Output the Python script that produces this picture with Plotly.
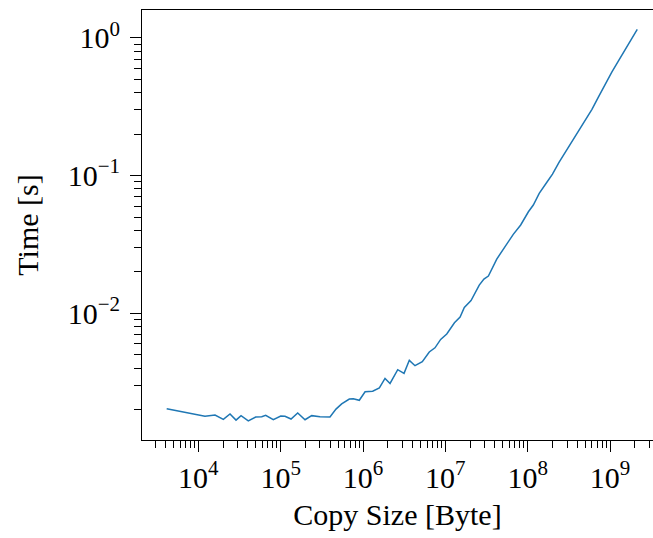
import plotly.graph_objects as go

# Copy benchmark: copy size in bytes vs. elapsed time in seconds
copy_size = [
    4130, 12050, 15960, 20140, 24270, 28710, 33040, 40460, 49770, 58880,
    65770, 81470, 100200, 113000, 133700, 161100, 197700, 238200, 300600, 397200,
    469900, 550800, 682300, 762100, 901600, 1.06e6, 1.31e6, 1.58e6, 1.85e6, 2.13e6,
    2.64e6, 3.15e6, 3.65e6, 4.28e6, 5.25e6, 6.38e6, 7.48e6, 8.77e6, 1.04e7, 1.29e7,
    1.51e7, 1.70e7, 2.05e7, 2.58e7, 2.94e7, 3.33e7, 4.21e7, 5.30e7, 6.68e7, 8.22e7,
    1.02e8, 1.17e8, 1.38e8, 1.66e8, 2.00e8, 2.40e8, 2.88e8, 3.47e8, 4.17e8, 5.01e8,
    6.03e8, 7.24e8, 8.71e8, 1.05e9, 1.26e9, 1.51e9, 1.82e9, 2.14e9,
]
copy_time = [
    0.00203, 0.00179, 0.00183, 0.00170, 0.00186, 0.00168, 0.00181, 0.00166, 0.00177, 0.00178,
    0.00182, 0.00169, 0.00180, 0.00179, 0.00171, 0.00189, 0.00169, 0.00181, 0.00178, 0.00177,
    0.00202, 0.00220, 0.00239, 0.00240, 0.00234, 0.00270, 0.00272, 0.00288, 0.00337, 0.00310,
    0.00390, 0.00367, 0.00456, 0.00417, 0.00446, 0.00524, 0.00562, 0.00647, 0.00708, 0.00855,
    0.00940, 0.01102, 0.01239, 0.01603, 0.01774, 0.01866, 0.02477, 0.03041, 0.03741, 0.04375,
    0.05458, 0.06109, 0.07430, 0.0871, 0.1023, 0.1245, 0.148, 0.176, 0.209, 0.251,
    0.302, 0.372, 0.462, 0.562, 0.676, 0.813, 0.989, 1.151,
]

x_tick_vals = [1e4, 1e5, 1e6, 1e7, 1e8, 1e9]
x_tick_text = ["10<sup>4</sup>", "10<sup>5</sup>", "10<sup>6</sup>",
               "10<sup>7</sup>", "10<sup>8</sup>", "10<sup>9</sup>"]
y_tick_vals = [1e-2, 1e-1, 1e0]
y_tick_text = ["10<sup>\u22122</sup>", "10<sup>\u22121</sup>", "10<sup>0</sup>"]

x_minor = [m * 10 ** e for e in range(3, 10) for m in range(2, 10)]
y_minor = [m * 10 ** e for e in range(-3, 1) for m in range(2, 10)]

FONT = "Liberation Serif, DejaVu Serif, serif"
title_font = dict(family=FONT, size=30, color="black")
tick_font = dict(family=FONT, size=30, color="black")

fig = go.Figure()
fig.add_trace(go.Scatter(
    x=copy_size, y=copy_time, mode="lines",
    line=dict(color="#1f77b4", width=1.5),
    showlegend=False,
))

fig.update_layout(
    width=653, height=538,
    margin=dict(l=142, r=0, t=10, b=98, autoexpand=False),
    paper_bgcolor="white", plot_bgcolor="white",
    font=dict(family=FONT, size=30, color="black"),
    showlegend=False,
)

fig.update_xaxes(
    type="log", range=[3.3163, 9.5215],
    showgrid=False, zeroline=False,
    showline=True, linecolor="black", linewidth=1, mirror=True,
    tickmode="array", tickvals=x_tick_vals, ticktext=x_tick_text,
    ticks="outside", ticklen=11, tickwidth=1, tickcolor="black",
    tickfont=tick_font,
    minor=dict(tickmode="array", tickvals=x_minor, ticks="outside",
               ticklen=7, tickwidth=1, tickcolor="black", showgrid=False),
    title=dict(text="Copy Size [Byte]", font=title_font, standoff=10),
    automargin=False,
)

fig.update_yaxes(
    type="log", range=[-2.919, 0.201],
    showgrid=False, zeroline=False,
    showline=True, linecolor="black", linewidth=1, mirror=False,
    tickmode="array", tickvals=y_tick_vals, ticktext=y_tick_text,
    ticks="outside", ticklen=11, tickwidth=1, tickcolor="black",
    tickfont=tick_font, ticklabelstandoff=4,
    minor=dict(tickmode="array", tickvals=y_minor, ticks="outside",
               ticklen=7, tickwidth=1, tickcolor="black", showgrid=False),
    title=dict(text="Time [s]", font=title_font, standoff=20),
    automargin=False,
)

fig.write_html("out.html")
